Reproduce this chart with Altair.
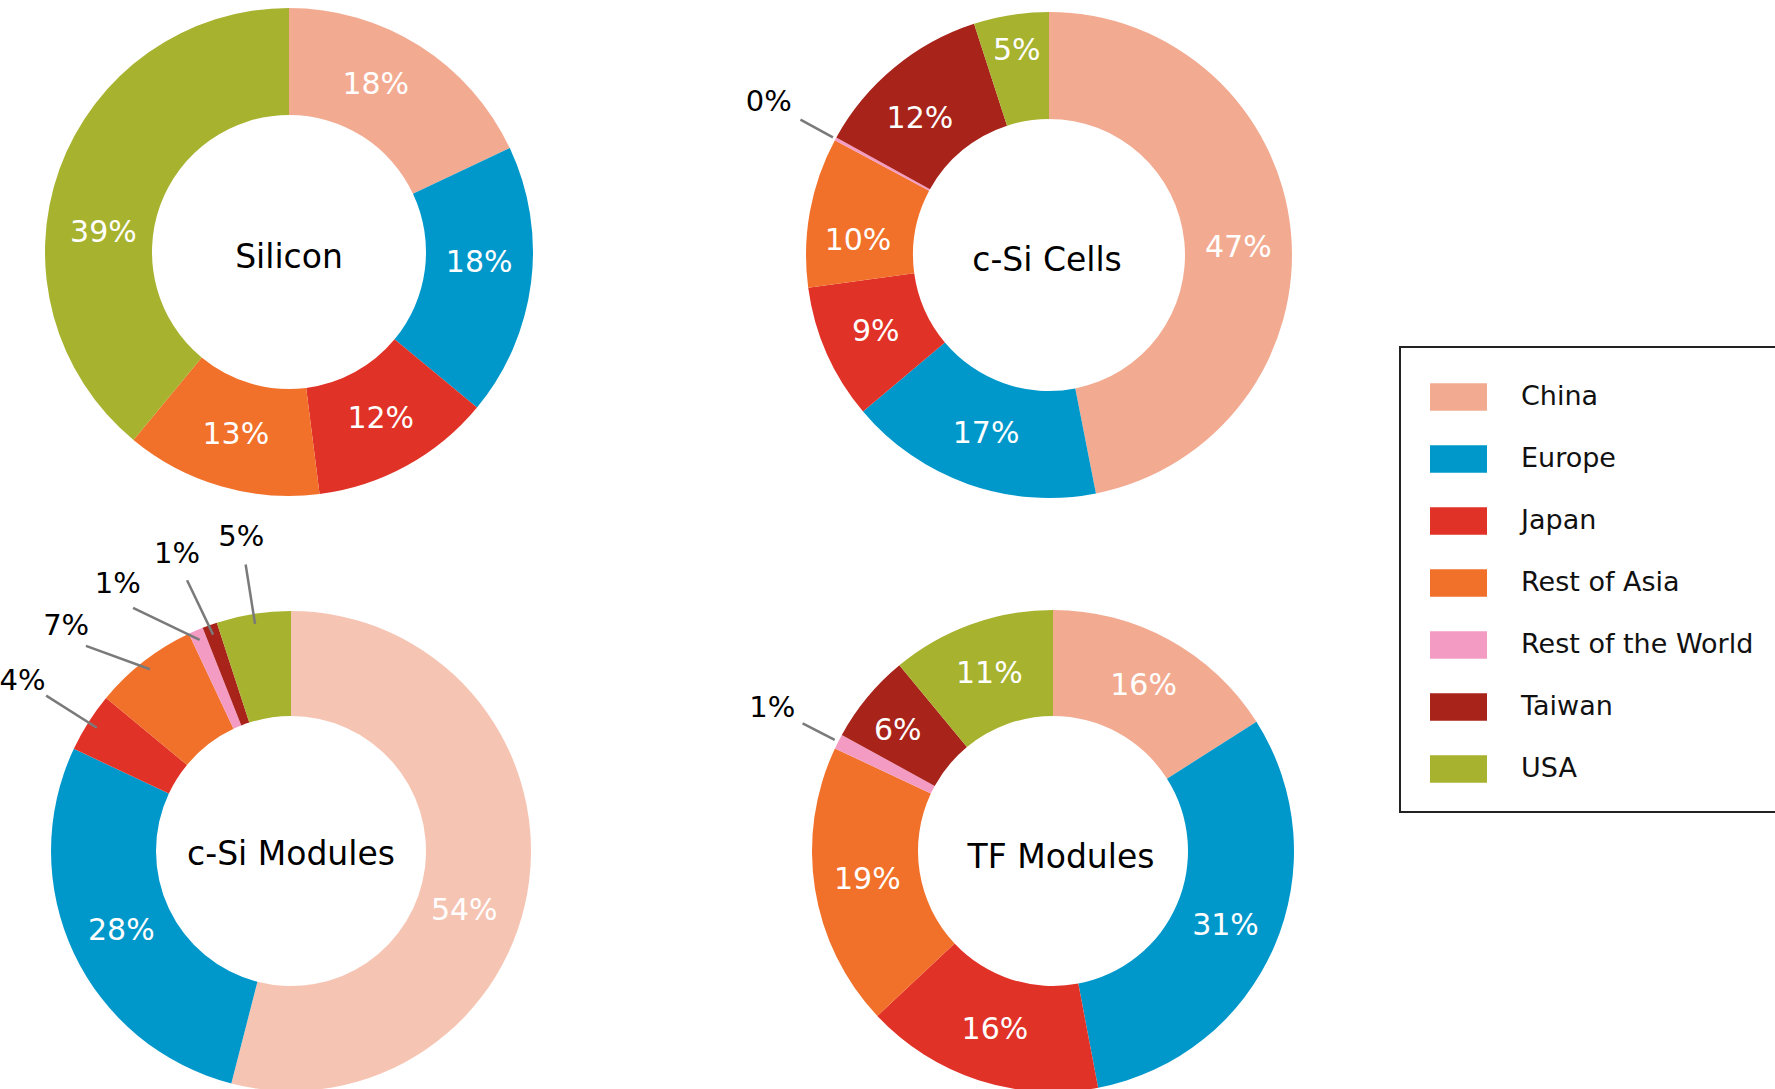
import math
import altair as alt
import pandas as pd

# ---------------- data ----------------
regions = ["China", "Europe", "Japan", "Rest of Asia", "Rest of the World", "Taiwan", "USA"]
panels = ["Silicon", "c-Si Cells", "c-Si Modules", "TF Modules"]
silicon = [18, 18, 12, 13, None, None, 39]
csi_cells = [47, 17, 9, 10, 0.2, 12, 5]
csi_modules = [54, 28, 4, 7, 1, 1, 5]
tf_modules = [16, 31, 16, 19, 1, 6, 11]
series = [silicon, csi_cells, csi_modules, tf_modules]

# ---------------- styles / layout ----------------
colors = ["#F2AB91", "#0098CB", "#E13227", "#F1712A", "#F39BC3", "#A8231A", "#A7B22E"]
W, H = 1775, 1089
FONT = "DejaVu Sans"
layout = {
    "Silicon":      dict(cx=289, cy=252, r=244, ri=137, out_max=1, lead=(3, 40, 78), tdx=0, tdy=6),
    "c-Si Cells":   dict(cx=1049, cy=255, r=243, ri=136, out_max=1, lead=(3, 40, 76), tdx=-2, tdy=6),
    "c-Si Modules": dict(cx=291, cy=851, r=240, ri=135, out_max=7, lead=(-10, 50, 78), tdx=0, tdy=4,
                         china_op=0.7),
    "TF Modules":   dict(cx=1053, cy=851, r=241, ri=135, out_max=1, lead=(4, 40, 74), tdx=8, tdy=7),
}
# hand placement tweaks of inner labels: (angle offset deg, radius offset px)
nudge = {
    ("Silicon", "USA"): (-14, -4), ("Silicon", "China"): (-5, -2), ("Silicon", "Europe"): (-4, 0),
    ("c-Si Modules", "China"): (12, -4), ("c-Si Cells", "China"): (3.5, 0),
    ("c-Si Cells", "Rest of Asia"): (-6, 2), ("c-Si Cells", "Taiwan"): (-4, -2),
    ("c-Si Cells", "USA"): (0, 17), ("TF Modules", "Taiwan"): (-2, 8),
}
GAP = 12  # min angular gap between outside labels (deg)

# ---------------- derived table ----------------
rows = []
for p, vals in zip(panels, series):
    L = layout[p]
    total = sum(v for v in vals if v is not None)
    cum = 0.0
    rm = (L["r"] + L["ri"]) / 2
    for i, (reg, v) in enumerate(zip(regions, vals)):
        if v is None:
            continue
        mid = (cum + v / 2) / total * 360
        cum += v
        lab = f"{round(v)}%"
        outside = round(v) <= L["out_max"]
        da, dr = nudge.get((p, reg), (0, 0))
        a = math.radians(mid + da)
        rows.append(dict(panel=p, region=reg, idx=i, value=v, label=lab, mid=mid,
                         outside=outside, inner="" if outside else lab,
                         ix=L["cx"] + (rm + dr) * math.sin(a), iy=L["cy"] - (rm + dr) * math.cos(a)))
df = pd.DataFrame(rows)

# outside label placement (spread backwards to keep a minimum gap)
out_rows = []
for p in panels:
    L = layout[p]
    sub = df[(df.panel == p) & (df.outside)].sort_values("mid")
    recs = sub.to_dict("records")
    prev = None
    angs = [0] * len(recs)
    for k in range(len(recs) - 1, -1, -1):
        a = recs[k]["mid"] if prev is None else min(recs[k]["mid"], prev - GAP)
        angs[k] = a
        prev = a
    r0, r1, r2 = (L["r"] + o for o in L["lead"])
    for rec, a in zip(recs, angs):
        m = math.radians(rec["mid"]); la = math.radians(a)
        out_rows.append(dict(
            panel=p, label=rec["label"],
            x0=L["cx"] + r0 * math.sin(m), y0=L["cy"] - r0 * math.cos(m),
            x1=L["cx"] + r1 * math.sin(la), y1=L["cy"] - r1 * math.cos(la),
            tx=L["cx"] + r2 * math.sin(la), ty=L["cy"] - r2 * math.cos(la)))
odf = pd.DataFrame(out_rows)

xs = alt.Scale(domain=[0, W], range=[0, W])
ys = alt.Scale(domain=[0, H], range=[0, H])
color = alt.Color("region:N", scale=alt.Scale(domain=regions, range=colors), legend=None)

layers = []
for p in panels:
    L = layout[p]
    base = alt.Chart(df).transform_filter(alt.datum.panel == p)
    arc_enc = dict(
        theta=alt.Theta("value:Q", stack="normalize"),
        order=alt.Order("idx:Q"),
        x=alt.value(L["cx"]), y=alt.value(L["cy"]),
        color=color,
    )
    if "china_op" in L:
        arc_enc["opacity"] = alt.condition(alt.datum.region == "China",
                                           alt.value(L["china_op"]), alt.value(1))
    layers.append(base.mark_arc(outerRadius=L["r"], innerRadius=L["ri"], strokeWidth=0)
                  .encode(**arc_enc))
    layers.append(alt.Chart(pd.DataFrame({"panel": [p]}))
                  .mark_text(fontSize=33, font=FONT, color="black", align="center", baseline="middle")
                  .encode(text="panel:N", x=alt.value(L["cx"] + L["tdx"]), y=alt.value(L["cy"] + L["tdy"])))

# inner labels
layers.append(alt.Chart(df).transform_filter(alt.datum.inner != "")
              .mark_text(color="white", fontSize=30, font=FONT, align="center", baseline="middle")
              .encode(x=alt.X("ix:Q", scale=xs, axis=None), y=alt.Y("iy:Q", scale=ys, axis=None),
                      text="inner:N"))

if len(odf):
    ob = alt.Chart(odf)
    layers.append(ob.mark_rule(color="#7a7a7a", strokeWidth=2.5)
                  .encode(x=alt.X("x0:Q", scale=xs, axis=None), y=alt.Y("y0:Q", scale=ys, axis=None),
                          x2="x1:Q", y2="y1:Q"))
    layers.append(ob.mark_text(fontSize=29, font=FONT, color="black", align="center", baseline="middle")
                  .encode(x=alt.X("tx:Q", scale=xs, axis=None), y=alt.Y("ty:Q", scale=ys, axis=None),
                          text="label:N"))

# legend (manual)
leg = pd.DataFrame({"region": regions})
layers.append(alt.Chart(pd.DataFrame({"a": [0]}))
              .mark_rect(fill="white", fillOpacity=0, stroke="#222", strokeWidth=2)
              .encode(x=alt.value(1400), x2=alt.value(1800), y=alt.value(347), y2=alt.value(812)))
ly = alt.Y("region:N", sort=regions, scale=alt.Scale(domain=regions, range=[366, 800]), axis=None)
layers.append(alt.Chart(leg)
              .mark_point(shape="M-1,-0.48H1V0.48H-1Z", size=3249, filled=True, opacity=1, strokeWidth=0)
              .encode(x=alt.value(1458.5), y=ly, color=color))
layers.append(alt.Chart(leg)
              .mark_text(fontSize=27, font=FONT, color="#111", align="left", baseline="middle")
              .encode(x=alt.value(1521), y=ly, text="region:N"))

chart = (alt.layer(*layers)
         .resolve_scale(y="independent", x="independent")
         .properties(width=W, height=H, autosize=alt.AutoSizeParams(type="none"), padding=0,
                     background="white")
         .configure_view(stroke=None))

chart.save("out.html", embed_options={"renderer": "svg", "actions": False})
